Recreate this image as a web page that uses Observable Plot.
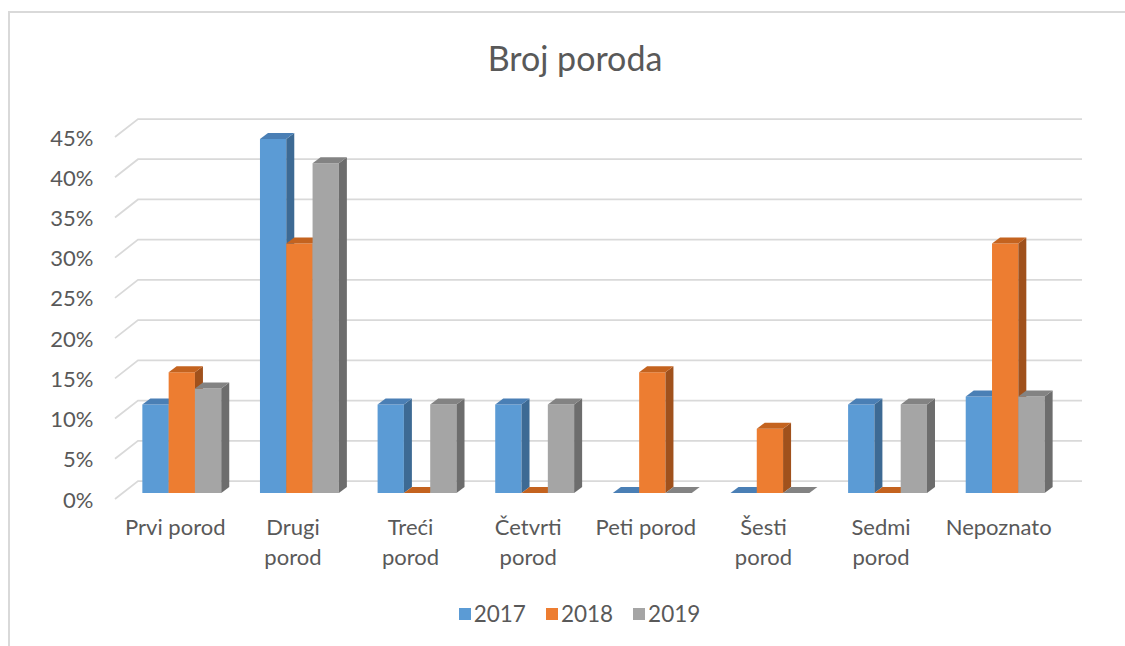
<!DOCTYPE html>
<html>
<head>
<meta charset="utf-8">
<script src="https://cdn.jsdelivr.net/npm/d3@7"></script>
<script src="https://cdn.jsdelivr.net/npm/@observablehq/plot@0.6"></script>
<style>
  html, body { margin: 0; padding: 0; background: #fff; width: 1125px; height: 646px; overflow: hidden; }
  body { position: relative; font-family: Lato, "Open Sans", sans-serif; color: #595959; }
  #frame { position: absolute; left: 8px; top: 11px; width: 1300px; height: 800px; box-sizing: border-box;
           border-left: 2px solid #d9d9d9; border-top: 2px solid #d9d9d9; pointer-events: none; }
  #title { height: 95px; box-sizing: border-box; padding-top: 41px; padding-left: 25px; line-height: 34px;
           font-size: 34px; text-align: center; }
  #chart svg { display: block; }
  #legend { position: absolute; left: 0; top: 604px; width: 1125px; height: 20px; box-sizing: border-box;
            padding-left: 34px; display: flex; justify-content: center; align-items: center;
            font-size: 22.5px; line-height: 20px; }
  .item { display: flex; align-items: center; margin: 0 10px; }
  .sw { width: 12px; height: 12px; margin-right: 3px; }
</style>
</head>
<body>
<div id="frame"></div>
<div id="title">Broj poroda</div>
<div id="chart"></div>
<div id="legend"></div>
<script>
// ---- data ----
const categories = ["Prvi porod", "Drugi porod", "Treći porod", "Četvrti porod", "Peti porod", "Šesti porod", "Sedmi porod", "Nepoznato"];
const tickLabels = ["Prvi porod", "Drugi\nporod", "Treći\nporod", "Četvrti\nporod", "Peti porod", "Šesti\nporod", "Sedmi\nporod", "Nepoznato"];
const years = ["2017", "2018", "2019"];
const values2017 = [11, 44, 11, 11, 0, 0, 11, 12];
const values2018 = [15, 31, 0, 0, 15, 8, 0, 31];
const values2019 = [13, 41, 11, 11, 0, 0, 11, 12];
const yTicks = [0, 5, 10, 15, 20, 25, 30, 35, 40, 45];

// ---- styles ----
const frontColors = ["#5b9bd5", "#ed7d31", "#a5a5a5"];
const topColors = ["#4a7fb5", "#c4631f", "#838383"];
const sideColors = ["#3d6a94", "#a0511c", "#6d6d6d"];

const series = [values2017, values2018, values2019];
const rows = [];
categories.forEach((c, ci) => years.forEach((yr, k) => rows.push({cat: c, year: yr, k, value: series[k][ci]})));

const BAR_DX = 8, BAR_DY = -6;          // bar depth
const WALL_DX = 23, WALL_DY = -18;      // full floor depth
const FRONT_DY = 6;                     // bar plane -> front edge
const GROUP_PAD = 0.1645, BAR_FRAC = 0.2236;

function bandwidthOf(x) {
  if (x.bandwidth) return x.bandwidth();
  return x(categories[1]) - x(categories[0]);
}

function poly(g, pts, fill) {
  g.append("polygon").attr("points", pts.map(p => p.join(",")).join(" ")).attr("fill", fill);
}

function renderBars(index, scales) {
  const g = d3.create("svg:g");
  const x = scales.x, y = scales.y;
  const bw = bandwidthOf(x);
  const y0 = y(0);
  for (const i of index) {
    const r = rows[i];
    const xl = x(r.cat) + bw * GROUP_PAD + r.k * bw * BAR_FRAC;
    const xr = xl + bw * BAR_FRAC;
    const yv = y(r.value);
    if (r.value > 0) {
      poly(g, [[xl, y0], [xr, y0], [xr, yv], [xl, yv]], frontColors[r.k]);
      poly(g, [[xr, y0], [xr + BAR_DX, y0 + BAR_DY], [xr + BAR_DX, yv + BAR_DY], [xr, yv]], sideColors[r.k]);
    }
    poly(g, [[xl, yv], [xl + BAR_DX, yv + BAR_DY], [xr + BAR_DX, yv + BAR_DY], [xr, yv]], topColors[r.k]);
  }
  return g.node();
}

function renderGrid(index, scales, values, dimensions) {
  const g = d3.create("svg:g").attr("fill", "none").attr("stroke", "#d9d9d9").attr("stroke-width", 1.75);
  const ml = dimensions.marginLeft, xr = dimensions.width - dimensions.marginRight;
  for (const i of index) {
    const yv = scales.y(yTicks[i]);
    const yf = yv + FRONT_DY;
    g.append("path").attr("d", `M${ml},${yf}L${ml + WALL_DX},${yf + WALL_DY}L${xr},${yf + WALL_DY}`);
  }
  return g.node();
}

const plot = Plot.plot({
  width: 1125,
  height: 495,
  marginLeft: 115,
  marginRight: 43,
  marginTop: 20,
  marginBottom: 91,
  style: {fontFamily: "Lato, 'Open Sans', sans-serif", color: "#595959", background: "transparent"},
  x: {domain: categories, range: [123, 1064], padding: 0, round: false, label: null},
  y: {domain: [0, 45], range: [398, 36], label: null},
  color: {domain: years, range: frontColors},
  marks: [
    Plot.ruleY(yTicks, {y: d => d, render: renderGrid}),
    Plot.barY(rows, {x: "cat", y: "value", fill: "year", render: renderBars}),
    Plot.axisY({ticks: yTicks, tickFormat: d => d + "%", tickSize: 0, tickPadding: 22, dy: 7, fontSize: 22, label: null}),
    Plot.axisX({tickFormat: d => tickLabels[categories.indexOf(d)], tickSize: 0, tickPadding: 14,
                fontSize: 22, lineHeight: 1.36, dx: -7, label: null})
  ]
});
document.getElementById("chart").append(plot);

const legend = document.getElementById("legend");
years.forEach((yr, k) => {
  const it = document.createElement("div");
  it.className = "item";
  const sw = document.createElement("div");
  sw.className = "sw";
  sw.style.background = frontColors[k];
  const t = document.createElement("span");
  t.textContent = yr;
  it.append(sw, t);
  legend.append(it);
});
</script>
</body>
</html>
